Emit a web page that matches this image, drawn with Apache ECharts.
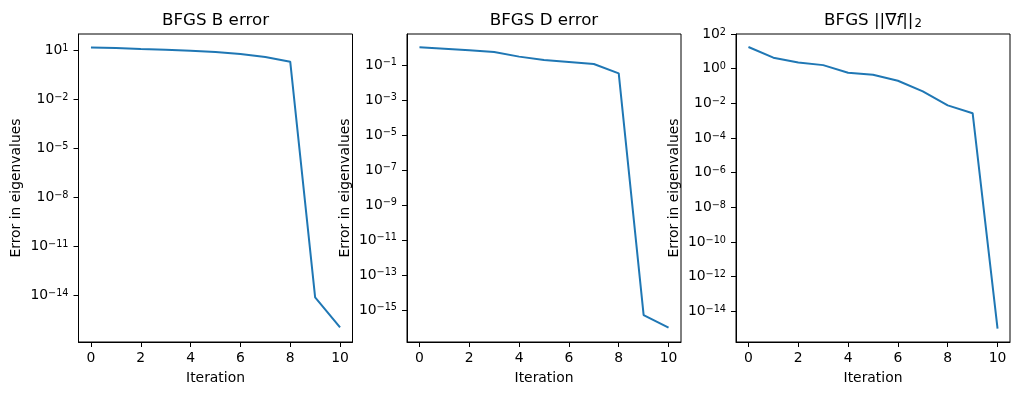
<!DOCTYPE html>
<html><head><meta charset="utf-8">
<script src="https://cdn.jsdelivr.net/npm/echarts@6/dist/echarts.min.js"></script>
<style>html,body{margin:0;padding:0;background:#fff}#c{width:1018px;height:395px}</style>
</head><body><div id="c"></div>
<script>
// ---- data ----
const iterations = [0, 1, 2, 3, 4, 5, 6, 7, 8, 9, 10];
const errB = [15.8, 14.5, 12.6, 11.5, 10.0, 8.3, 6.3, 4.1, 2.1, 7.6e-15, 1.1e-16];
const errD = [1.02, 0.85, 0.69, 0.55, 0.30, 0.19, 0.15, 0.114, 0.033, 5.1e-16, 9.8e-17];
const gradNorm = [17.8, 4.3, 2.3, 1.6, 0.58, 0.45, 0.20, 0.049, 0.0076, 0.0027, 1.0e-15];
const xTicks = [0, 2, 4, 6, 8, 10];
const yTicksB = [1e1, 1e-2, 1e-5, 1e-8, 1e-11, 1e-14];
const yTicksD = [1e-1, 1e-3, 1e-5, 1e-7, 1e-9, 1e-11, 1e-13, 1e-15];
const yTicksG = [1e2, 1e0, 1e-2, 1e-4, 1e-6, 1e-8, 1e-10, 1e-12, 1e-14];
const yExpRangeB = [-16.85, 2.02];
const yExpRangeD = [-16.83, 0.77];
const yExpRangeG = [-15.77, 2];
const titles = ['BFGS B error', 'BFGS D error', '{t|BFGS ||\u2207}{i|f}{t|||}{s|2}'];
const xLabel = 'Iteration';
const yLabel = 'Error in eigenvalues';

// ---- layout / style ----
const FONT = 'DejaVu Sans';
const gridLefts = [78.5, 407, 736];
const gridTop = 34, gridW = 274, gridH = 308;
const panels = [
  {vals: errB, ticks: yTicksB, range: yExpRangeB},
  {vals: errD, ticks: yTicksD, range: yExpRangeD},
  {vals: gradNorm, ticks: yTicksG, range: yExpRangeG}
];

function expLabel(v) {
  const e = Math.round(Math.log10(v));
  const s = e < 0 ? '\u2212' + (-e) : String(e);
  return '{b|10}{s|' + s + '}';
}
const labelRich = {
  b: {fontSize: 13.9, fontFamily: FONT, color: '#000', lineHeight: 14, verticalAlign: 'bottom'},
  s: {fontSize: 9.7, fontFamily: FONT, color: '#000', lineHeight: 10, verticalAlign: 'top', padding: [0, 0, 7, 0]}
};

const grids = [], xAxes = [], yAxes = [], series = [], graphics = [];
panels.forEach((p, i) => {
  grids.push({left: gridLefts[i], top: gridTop, width: gridW, height: gridH, show: true,
    borderColor: '#000', borderWidth: 1, backgroundColor: 'transparent', containLabel: false});
  xAxes.push({type: 'value', gridIndex: i, min: -0.5, max: 10.5,
    axisLine: {show: true, onZero: false, lineStyle: {color: '#000', width: 1}},
    axisTick: {show: true, inside: false, length: 5, lineStyle: {color: '#000', width: 1}, customValues: xTicks},
    axisLabel: {show: true, margin: 9, color: '#000', fontSize: 13.9, fontFamily: FONT, customValues: xTicks},
    splitLine: {show: false},
    name: xLabel, nameLocation: 'middle', nameGap: 29,
    nameTextStyle: {color: '#000', fontSize: 13.9, fontFamily: FONT}
  });
  yAxes.push({type: 'log', logBase: 10, gridIndex: i,
    min: Math.pow(10, p.range[0]), max: Math.pow(10, p.range[1]),
    axisLine: {show: true, onZero: false, lineStyle: {color: '#000', width: 1}},
    axisTick: {show: true, inside: false, length: 5, lineStyle: {color: '#000', width: 1}, customValues: p.ticks},
    axisLabel: {show: true, margin: 10, formatter: expLabel, rich: labelRich, customValues: p.ticks},
    splitLine: {show: false}, minorTick: {show: false},
    name: yLabel, nameLocation: 'middle', nameGap: 55, nameRotate: 90,
    nameTextStyle: {color: '#000', fontSize: 13.9, fontFamily: FONT}
  });
  series.push({type: 'line', xAxisIndex: i, yAxisIndex: i, showSymbol: false, symbol: 'none',
    data: iterations.map((x, k) => [x, p.vals[k]]),
    lineStyle: {color: '#1f77b4', width: 2}, itemStyle: {color: '#1f77b4'}, clip: false});
  graphics.push({type: 'text', x: gridLefts[i] + gridW / 2, y: 21,
    style: {text: titles[i], fill: '#000', fontSize: 16.7, fontFamily: FONT,
      align: 'center', verticalAlign: 'middle', textAlign: 'center', textVerticalAlign: 'middle',
      rich: {
        t: {fontSize: 16.7, fontFamily: FONT, fill: '#000', lineHeight: 17, verticalAlign: 'top'},
        i: {fontSize: 16.7, fontFamily: FONT, fontStyle: 'italic', fill: '#000', lineHeight: 17, verticalAlign: 'top'},
        s: {fontSize: 11.7, fontFamily: FONT, fill: '#000', lineHeight: 12, verticalAlign: 'bottom', padding: [8, 0, 0, 1]}
      }}
  });
});

const chart = echarts.init(document.getElementById('c'), null, {renderer: 'canvas'});
chart.setOption({
  animation: false,
  backgroundColor: '#fff',
  grid: grids, xAxis: xAxes, yAxis: yAxes, series: series, graphic: graphics
});
</script>
</body></html>
